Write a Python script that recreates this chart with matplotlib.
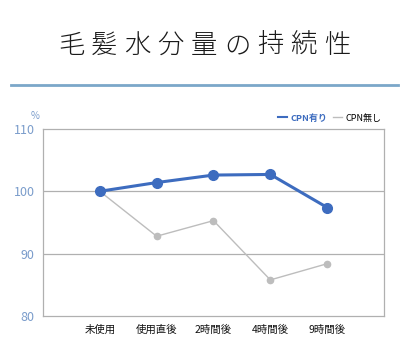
import matplotlib.pyplot as plt
from matplotlib.lines import Line2D

plt.rcParams['font.family'] = ['Noto Sans CJK JP', 'DejaVu Sans']

titulo = "毛髪水分量の持続性"
categorias = ["未使用", "使用直後", "2時間後", "4時間後", "9時間後"]
cpn_ari = [100, 101.4, 102.6, 102.7, 97.4]
cpn_nashi = [100, 92.8, 95.3, 85.8, 88.4]
ticks_y = [80, 90, 100, 110]

AZUL = "#3d6cbf"
CINZA = "#bdbdbd"
AZUL_TICK = "#7a9ccb"

fig = plt.figure(figsize=(4.09, 3.58), dpi=100)
ax = fig.add_axes([0.105, 0.117, 0.834, 0.523])

x = list(range(1, len(categorias) + 1))
ax.plot(x, cpn_nashi, color=CINZA, lw=1, marker="o", ms=4.5, zorder=3)
ax.plot(x, cpn_ari, color=AZUL, lw=2.2, marker="o", ms=7, zorder=4)

ax.set_xlim(0, len(categorias) + 1)
ax.set_ylim(80, 110)
ax.set_yticks(ticks_y)
ax.set_yticklabels([str(v) for v in ticks_y], color=AZUL_TICK, fontsize=9)
ax.set_xticks(x)
ax.set_xticklabels(categorias, fontsize=7.5, color="#111111")
ax.tick_params(length=0, pad=6)
for y in [90, 100]:
    ax.axhline(y, color="#b0b0b0", lw=0.9, zorder=1)
for s in ax.spines.values():
    s.set_color("#b0b0b0")
    s.set_linewidth(0.9)

fig.text(0.085, 0.668, "%", color=AZUL_TICK, fontsize=7, ha="center")

handles = [Line2D([], [], color=AZUL, lw=1.5), Line2D([], [], color=CINZA, lw=1)]
leg = ax.legend(handles, ["CPN有り", "CPN無し"], ncol=2, loc="lower right",
                bbox_to_anchor=(1.01, 1.0), frameon=False, fontsize=6.5,
                handlelength=1.0, handletextpad=0.4, columnspacing=0.6,
                borderpad=0.2)
leg.get_texts()[0].set_color(AZUL)
leg.get_texts()[0].set_fontweight("bold")

# titulo com espacamento entre letras
x0, x1 = 71 / 409, 337 / 409
passo = (x1 - x0) / (len(titulo) - 1)
for i, ch in enumerate(titulo):
    fig.text(x0 + i * passo, 0.874, ch, fontsize=19, ha="center", va="center",
             color="#1a1a1a", fontweight="light")
fig.add_artist(Line2D([0.027, 0.973], [0.762, 0.762], color="#7ba7c9", lw=2,
                      transform=fig.transFigure))

plt.savefig("out.png", dpi=100)
